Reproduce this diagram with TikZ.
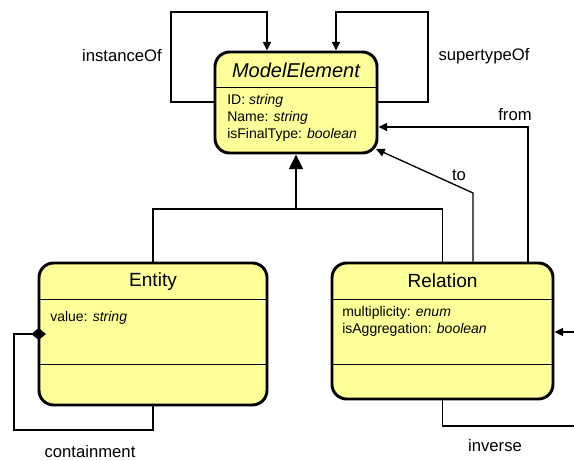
\documentclass[tikz,border=0pt]{standalone}
\usepackage{fontspec}
\setmainfont{Liberation Sans}
\usetikzlibrary{arrows.meta}
\definecolor{boxfill}{RGB}{255,255,153}
\tikzset{
  classbox/.style={draw=black, line width=2.2pt, fill=boxfill, rounded corners=11pt, inner sep=0pt},
  divider/.style={line width=0.7pt},
  conn/.style={line width=1pt},
  arr/.style={conn, -{Triangle[length=6.5pt,width=6pt]}},
  gen/.style={conn, -{Triangle[length=11pt,width=10.5pt]}},
  comp/.style={conn, -{Diamond[length=11pt,width=9pt]}},
  lbl/.style={font=\fontsize{12.5}{15}\selectfont, inner sep=0pt},
  title/.style={font=\fontsize{14.3}{17}\selectfont, inner sep=0pt},
  attr/.style={font=\fontsize{10.5}{13}\selectfont, inner sep=0pt, anchor=west},
}
\begin{document}
\begin{tikzpicture}[x=0.75pt,y=-0.75pt]
\useasboundingbox (0,0) rectangle (574,460);
% boxes
\node[classbox, minimum width=121.5pt, minimum height=75.75pt] (ME) at (296,102.5) {};
\node[classbox, minimum width=171pt, minimum height=106.5pt] (Ent) at (153,334) {};
\node[classbox, minimum width=165.75pt, minimum height=102pt] (Rel) at (442.5,331) {};
% dividers
\draw[divider] (ME.west |- 0,87) -- (ME.east |- 0,87);
\draw[divider] (Ent.west |- 0,299) -- (Ent.east |- 0,299);
\draw[divider] (Ent.west |- 0,364) -- (Ent.east |- 0,364);
\draw[divider] (Rel.west |- 0,299) -- (Rel.east |- 0,299);
\draw[divider] (Rel.west |- 0,364) -- (Rel.east |- 0,364);
% texts
\node[title, font=\fontsize{15}{18}\selectfont\itshape] (MEt) at (296,70) {ModelElement};
\node[attr] (a1) at (227,101) {ID: \textit{string}};
\node[attr] (a2) at (227,118) {Name: \textit{string}};
\node[attr] (a3) at (227,135) {isFinalType: \textit{boolean}};
\node[title] (Entt) at (153,282) {Entity};
\node[attr] (e1) at (50,318) {value: \textit{string}};
\node[title] (Relt) at (442.5,281) {Relation};
\node[attr] (r1) at (342,313) {multiplicity: \textit{enum}};
\node[attr] (r2) at (342,330) {isAggregation: \textit{boolean}};
% labels
\node[lbl] (l1) at (122,56) {instanceOf};
\node[lbl] (l2) at (484,56) {supertypeOf};
\node[lbl] (l3) at (515,115) {from};
\node[lbl] (l4) at (459,175) {to};
\node[lbl] (l5) at (90,452) {containment};
\node[lbl] (l6) at (495,446) {inverse};
% coordinates
\coordinate (i1) at (171,102);
\coordinate (i2) at (171,12);
\coordinate (i3) at (267,12);
\coordinate (s1) at (428,102);
\coordinate (s2) at (428,12);
\coordinate (s3) at (336,12);
\coordinate (f1) at (528,127);
\coordinate (t1) at (473,193);
\coordinate (t2) at (376,149);
\coordinate (g1) at (153,209);
\coordinate (g2) at (442.5,209);
\coordinate (g3) at (296,209);
\coordinate (c1) at (153,430);
\coordinate (c2) at (14,430);
\coordinate (c3) at (14,334);
\coordinate (c4) at (46,334);
\coordinate (v1) at (442.5,426);
\coordinate (v2) at (574,426);
\coordinate (v3) at (574,332);
% connectors
\draw[arr] (ME.west |- i1) -- (i1) -- (i2) -- (i3) -- (i3 |- ME.north);
\draw[arr] (ME.east |- s1) -- (s1) -- (s2) -- (s3) -- (s3 |- ME.north);
\draw[arr] (f1 |- Rel.north) -- (f1) -- (f1 -| ME.east);
\draw[arr] (t1 |- Rel.north) -- (t1) -- (t2);
\draw[conn] (Ent.north) -- (g1) -- (g2) -- (Rel.north);
\draw[gen] (g3) -- (ME.south);
\draw[comp] (Ent.south) -- (c1) -- (c2) -- (c3) -- (c4);
\draw[conn] (Rel.south) -- (v1) -- (v2);
\draw[arr] (v3) -- (v3 -| Rel.east);
\end{tikzpicture}
\end{document}
